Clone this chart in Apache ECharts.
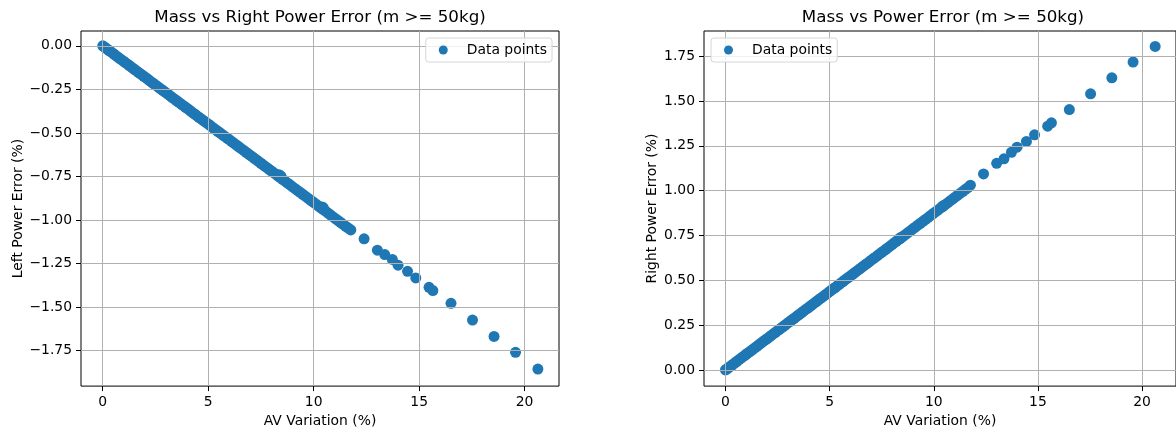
<!DOCTYPE html>
<html>
<head>
<meta charset="utf-8">
<script src="https://cdn.jsdelivr.net/npm/echarts@6/dist/echarts.min.js"></script>
<style>
html,body{margin:0;padding:0;background:#fff;}
#chart{width:1176px;height:433px;}
</style>
</head>
<body>
<div id="chart"></div>
<script>
// ---- data ----
const avVariation = [
  0.00, 0.06, 0.13, 0.21, 0.30, 0.38, 0.47, 0.55, 0.64, 0.72, 0.81, 0.90, 0.98, 1.07, 1.16, 1.25,
  1.33, 1.42, 1.51, 1.60, 1.69, 1.78, 1.86, 1.95, 2.04, 2.13, 2.22, 2.31, 2.40, 2.49, 2.58, 2.67,
  2.76, 2.85, 2.94, 3.03, 3.12, 3.21, 3.30, 3.39, 3.48, 3.57, 3.66, 3.75, 3.84, 3.93, 4.02, 4.11,
  4.20, 4.29, 4.38, 4.47, 4.56, 4.65, 4.74, 4.83, 4.92, 5.01, 5.10, 5.19, 5.28, 5.37, 5.46, 5.55,
  5.64, 5.73, 5.82, 5.91, 6.00, 6.10, 6.20, 6.30, 6.40, 6.50, 6.60, 6.70, 6.80, 6.90, 7.00, 7.10,
  7.20, 7.30, 7.40, 7.50, 7.60, 7.70, 7.80, 7.90, 8.00, 8.10, 8.20, 8.30, 8.40, 8.52, 8.64, 8.76,
  8.88, 9.00, 9.12, 9.24, 9.36, 9.48, 9.60, 9.72, 9.84, 9.96, 10.08, 10.20, 10.32, 10.44, 10.56, 10.68,
  10.80, 10.92, 11.04, 11.16, 11.28, 11.40, 11.52, 11.64, 11.76,
  12.39, 13.02, 13.37, 13.73, 14.00, 14.45, 14.84, 15.47, 15.65, 16.51, 17.53, 18.55, 19.57, 20.63,
  8.36, 8.45, 10.40, 10.46
];
const leftPowerError = [
  0.000, -0.005, -0.012, -0.019, -0.027, -0.034, -0.042, -0.049, -0.058, -0.065, -0.073, -0.081, -0.088, -0.096, -0.104, -0.112,
  -0.120, -0.128, -0.136, -0.144, -0.152, -0.160, -0.167, -0.175, -0.183, -0.191, -0.200, -0.208, -0.216, -0.224, -0.232, -0.240,
  -0.248, -0.256, -0.264, -0.272, -0.280, -0.289, -0.297, -0.305, -0.313, -0.321, -0.329, -0.337, -0.345, -0.353, -0.361, -0.369,
  -0.378, -0.386, -0.394, -0.402, -0.410, -0.418, -0.426, -0.434, -0.442, -0.450, -0.458, -0.467, -0.475, -0.483, -0.491, -0.499,
  -0.507, -0.515, -0.523, -0.531, -0.539, -0.548, -0.557, -0.566, -0.575, -0.584, -0.593, -0.602, -0.611, -0.620, -0.629, -0.638,
  -0.647, -0.656, -0.665, -0.674, -0.683, -0.692, -0.701, -0.710, -0.719, -0.728, -0.737, -0.746, -0.755, -0.766, -0.777, -0.788,
  -0.798, -0.809, -0.820, -0.831, -0.841, -0.852, -0.863, -0.874, -0.885, -0.895, -0.906, -0.917, -0.928, -0.939, -0.949, -0.960,
  -0.971, -0.982, -0.993, -1.003, -1.014, -1.025, -1.036, -1.046, -1.057,
  -1.108, -1.173, -1.198, -1.226, -1.259, -1.294, -1.332, -1.386, -1.405, -1.478, -1.574, -1.668, -1.759, -1.855,
  -0.740, -0.748, -0.925, -0.930
];
const rightPowerError = [
  0.000, 0.005, 0.011, 0.018, 0.026, 0.033, 0.041, 0.048, 0.056, 0.063, 0.071, 0.079, 0.086, 0.094, 0.101, 0.109,
  0.116, 0.124, 0.132, 0.140, 0.148, 0.156, 0.163, 0.170, 0.178, 0.186, 0.194, 0.202, 0.210, 0.218, 0.225, 0.233,
  0.241, 0.249, 0.257, 0.265, 0.273, 0.281, 0.288, 0.296, 0.304, 0.312, 0.320, 0.328, 0.336, 0.343, 0.351, 0.359,
  0.367, 0.375, 0.383, 0.391, 0.399, 0.406, 0.414, 0.422, 0.430, 0.438, 0.446, 0.454, 0.461, 0.469, 0.477, 0.485,
  0.493, 0.501, 0.509, 0.517, 0.524, 0.533, 0.542, 0.551, 0.559, 0.568, 0.577, 0.586, 0.594, 0.603, 0.612, 0.621,
  0.629, 0.638, 0.647, 0.656, 0.664, 0.673, 0.682, 0.690, 0.699, 0.708, 0.717, 0.725, 0.734, 0.745, 0.755, 0.766,
  0.776, 0.787, 0.797, 0.808, 0.818, 0.829, 0.839, 0.850, 0.860, 0.871, 0.881, 0.891, 0.902, 0.912, 0.923, 0.933,
  0.944, 0.954, 0.965, 0.975, 0.986, 0.996, 1.007, 1.017, 1.030,
  1.093, 1.152, 1.177, 1.214, 1.242, 1.274, 1.311, 1.359, 1.378, 1.452, 1.540, 1.629, 1.717, 1.804,
  0.734, 0.740, 0.910, 0.916
];
const xTicks = [0, 5, 10, 15, 20];
const leftYTicks = [-1.75, -1.5, -1.25, -1.0, -0.75, -0.5, -0.25, 0.0];
const rightYTicks = [0.0, 0.25, 0.5, 0.75, 1.0, 1.25, 1.5, 1.75];
const seriesName = 'Data points';
const leftTitle = 'Mass vs Right Power Error (m >= 50kg)';
const rightTitle = 'Mass vs Power Error (m >= 50kg)';
const xName = 'AV Variation (%)';
const leftYName = 'Left Power Error (%)';
const rightYName = 'Right Power Error (%)';

// ---- chart ----
const FONT = 'DejaVu Sans';
const BLUE = '#1f77b4';
const leftPts = avVariation.map((x, i) => [x, leftPowerError[i]]);
const rightPts = avVariation.map((x, i) => [x, rightPowerError[i]]);
const fmtY = v => v.toFixed(2).replace('-', '\u2212');

function xAxisCfg(idx) {
  return {
    type: 'value', gridIndex: idx, min: -1.03, max: 21.63, z: 3,
    name: xName, nameLocation: 'middle', nameGap: 25,
    nameTextStyle: {fontFamily: FONT, fontSize: 13.9, color: '#000'},
    axisLine: {show: false, onZero: false},
    axisTick: {show: true, length: 5, lineStyle: {color: '#000', width: 1}, customValues: xTicks},
    axisLabel: {margin: 9, fontFamily: FONT, fontSize: 13.9, color: '#000', customValues: xTicks, formatter: v => String(v)},
    splitLine: {show: true, lineStyle: {color: '#b0b0b0', width: 1}}
  };
}
function yAxisCfg(idx, min, max, ticks, name, gap) {
  return {
    type: 'value', gridIndex: idx, min: min, max: max, z: 3,
    name: name, nameLocation: 'middle', nameGap: gap,
    nameTextStyle: {fontFamily: FONT, fontSize: 13.9, color: '#000'},
    axisLine: {show: false, onZero: false},
    axisTick: {show: true, length: 5, lineStyle: {color: '#000', width: 1}, customValues: ticks},
    axisLabel: {margin: 9, fontFamily: FONT, fontSize: 13.9, color: '#000', customValues: ticks, formatter: fmtY},
    splitLine: {show: true, lineStyle: {color: '#b0b0b0', width: 1}}
  };
}
function legendCfg(pos) {
  return Object.assign({
    top: 38, orient: 'vertical', data: [seriesName], icon: 'circle',
    itemWidth: 37, itemHeight: 9, padding: [5, 5, 5, 13],
    borderColor: '#d6d6d6', borderWidth: 1, borderRadius: 3,
    backgroundColor: 'rgba(255,255,255,0.8)',
    textStyle: {fontFamily: FONT, fontSize: 13.9, color: '#000'},
    selectedMode: false
  }, pos);
}

const chart = echarts.init(document.getElementById('chart'), null, {renderer: 'canvas'});
chart.setOption({
  animation: false,
  backgroundColor: '#fff',
  title: [
    {text: leftTitle, left: 320, top: 9, textAlign: 'center', padding: 0,
     textStyle: {fontFamily: FONT, fontSize: 16.7, fontWeight: 'normal', color: '#000'}},
    {text: rightTitle, left: 943, top: 9, textAlign: 'center', padding: 0,
     textStyle: {fontFamily: FONT, fontSize: 16.7, fontWeight: 'normal', color: '#000'}}
  ],
  legend: [legendCfg({right: 624}), legendCfg({left: 711})],
  grid: [
    {left: 81, top: 31, width: 478, height: 356, show: true, borderColor: '#000', borderWidth: 1, containLabel: false},
    {left: 704, top: 31, width: 478, height: 356, show: true, borderColor: '#000', borderWidth: 1, containLabel: false}
  ],
  xAxis: [xAxisCfg(0), xAxisCfg(1)],
  yAxis: [
    yAxisCfg(0, -1.953, 0.085, leftYTicks, leftYName, 56),
    yAxisCfg(1, -0.09, 1.89, rightYTicks, rightYName, 45)
  ],
  series: [
    {type: 'scatter', name: seriesName, xAxisIndex: 0, yAxisIndex: 0, data: leftPts,
     symbol: 'circle', symbolSize: 11, itemStyle: {color: BLUE, opacity: 1}, emphasis: {disabled: true}},
    {type: 'scatter', name: seriesName, xAxisIndex: 1, yAxisIndex: 1, data: rightPts,
     symbol: 'circle', symbolSize: 11, itemStyle: {color: BLUE, opacity: 1}, emphasis: {disabled: true}}
  ]
});
</script>
</body>
</html>
